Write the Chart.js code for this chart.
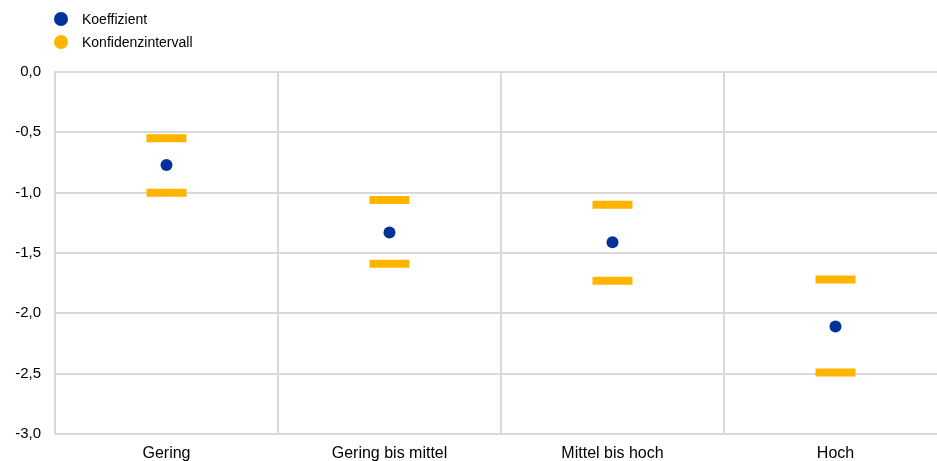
<!DOCTYPE html>
<html>
<head>
<meta charset="utf-8">
<script src="https://cdn.jsdelivr.net/npm/chart.js@4"></script>
<style>
  html, body { margin: 0; padding: 0; background: #fff; overflow: hidden; width: 937px; height: 461px; }
  #wrap { position: relative; width: 947px; height: 461px; }
  canvas { position: absolute; left: 0; top: 0; }
  .leg { position: absolute; left: 54px; height: 16px; font: 14px "Liberation Sans", Arial, sans-serif; color: #000; display: flex; align-items: center; }
  .leg .dot { width: 14px; height: 14px; border-radius: 50%; margin-right: 14px; }
</style>
</head>
<body>
<div id="wrap">
  <canvas id="c" width="947" height="461"></canvas>
  <div id="legend"></div>
</div>
<script>
const categories = ["Gering", "Gering bis mittel", "Mittel bis hoch", "Hoch"];
const koeffizient = [-0.77, -1.33, -1.41, -2.11];
const kiOben = [-0.55, -1.06, -1.10, -1.72];
const kiUnten = [-1.00, -1.59, -1.73, -2.49];
const seriesNames = ["Koeffizient", "Konfidenzintervall"];
const seriesColors = ["#003299", "#FFB400"];
const yTicks = [0, -0.5, -1, -1.5, -2, -2.5, -3];

// HTML legend
const legendEl = document.getElementById('legend');
seriesNames.forEach((name, i) => {
  const d = document.createElement('div');
  d.className = 'leg';
  d.style.top = (11 + i * 23) + 'px';
  d.innerHTML = '<span class="dot" style="background:' + seriesColors[i] + '"></span><span>' + name + '</span>';
  legendEl.appendChild(d);
});

const grid = '#d9d9d9';
const ciStyle = {
  showLine: false, pointStyle: 'line', pointRadius: 20, pointHoverRadius: 20,
  borderColor: seriesColors[1], backgroundColor: seriesColors[1],
  pointBorderWidth: 8, pointHoverBorderWidth: 8, borderWidth: 8
};
new Chart(document.getElementById('c'), {
  type: 'line',
  data: {
    labels: categories,
    datasets: [
      Object.assign({ label: seriesNames[1], data: kiOben }, ciStyle),
      Object.assign({ label: seriesNames[1], data: kiUnten }, ciStyle),
      {
        label: seriesNames[0], data: koeffizient, showLine: false,
        pointStyle: 'circle', pointRadius: 6, pointHoverRadius: 6,
        backgroundColor: seriesColors[0], borderColor: seriesColors[0], pointBorderWidth: 0, borderWidth: 0
      }
    ]
  },
  options: {
    responsive: false,
    animation: false,
    events: [],
    layout: { autoPadding: false, padding: { top: 72, left: 0, right: 0, bottom: 0 } },
    plugins: { legend: { display: false }, tooltip: { enabled: false } },
    scales: {
      x: {
        type: 'category',
        offset: true,
        grid: { offset: true, color: grid, lineWidth: 2, drawTicks: false },
        border: { color: grid, width: 2 },
        ticks: { color: '#000', padding: 10, font: { family: '"Liberation Sans", Arial, sans-serif', size: 16 }, maxRotation: 0 },
        afterFit: s => { s.height = 27; s.paddingLeft = 0; s.paddingRight = 0; }
      },
      y: {
        min: -3, max: 0,
        afterBuildTicks: s => { s.ticks = yTicks.map(v => ({ value: v })); },
        grid: { color: grid, lineWidth: 2, drawTicks: false },
        border: { color: grid, width: 2 },
        ticks: {
          color: '#000', padding: 14,
          font: { family: '"Liberation Sans", Arial, sans-serif', size: 15 },
          callback: v => v.toFixed(1).replace('.', ',')
        },
        afterFit: s => { s.width = 55; }
      }
    }
  }
});
</script>
</body>
</html>
